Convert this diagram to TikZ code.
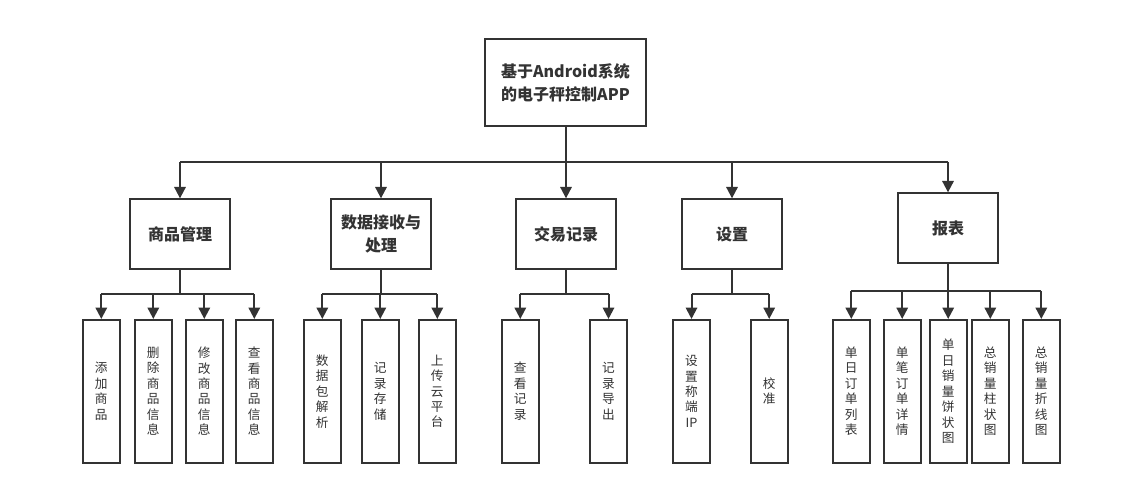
\documentclass[tikz,border=0pt]{standalone}
\usepackage{fontspec}
\newfontfamily\cjk{Noto Sans CJK SC}
\usetikzlibrary{arrows.meta}
\definecolor{linegray}{HTML}{333333}

\begin{document}
\begin{tikzpicture}[x=0.75pt,y=-0.75pt,>={Triangle[length=8.5pt,width=8.5pt]},
    link/.style={draw=linegray,line width=1.5pt},
    topbox/.style={draw=linegray,line width=1.5pt,fill=white,minimum width=121pt,minimum height=65pt,align=center,
        font=\cjk\bfseries\fontsize{12}{17}\selectfont,text=linegray},
    groupbox/.style={draw=linegray,line width=1.5pt,fill=white,minimum width=75pt,minimum height=52pt,align=center,
        font=\cjk\bfseries\fontsize{12}{17}\selectfont,text=linegray},
    leafbox/.style={draw=linegray,line width=1.5pt,fill=white,minimum width=28pt,minimum height=107pt,align=center,inner sep=0pt,
        font=\cjk\fontsize{9.5}{11.6}\selectfont,text=linegray}]
    \useasboundingbox (0,0) rectangle (1123,491);

    % top
    \node[topbox] (app) at (565.5,82.5) {基于Android系统\\的电子秤控制APP};

    % groups
    \node[groupbox] (goods) at (180,234) {商品管理};
    \node[groupbox] (data) at (381,234) {数据接收与\\处理};
    \node[groupbox] (trade) at (566,234) {交易记录};
    \node[groupbox] (setting) at (732,234) {设置};
    \node[groupbox] (report) at (948,228) {报表};

    \coordinate (bus) at (565.5,162.5);
    \draw[link] (app.south) -- (app |- bus);
    \draw[link] (goods |- bus) -- (report |- bus);
    \draw[link,->] (goods |- bus) -- (goods.north);
    \draw[link,->] (data |- bus) -- (data.north);
    \draw[link,->] (trade |- bus) -- (trade.north);
    \draw[link,->] (setting |- bus) -- (setting.north);
    \draw[link,->] (report |- bus) -- (report.north);

    % leaves
    \node[leafbox] (add) at (101.3,391.3) {添\\加\\商\\品};
    \node[leafbox] (del) at (153.3,391.3) {删\\除\\商\\品\\信\\息};
    \node[leafbox] (edit) at (204.3,391.3) {修\\改\\商\\品\\信\\息};
    \node[leafbox] (view) at (254.3,391.3) {查\\看\\商\\品\\信\\息};

    \node[leafbox] (parse) at (322.3,391.3) {数\\据\\包\\解\\析};
    \node[leafbox] (store) at (380.3,391.3) {记\\录\\存\\储};
    \node[leafbox] (upload) at (437.3,391.3) {上\\传\\云\\平\\台};

    \node[leafbox] (look) at (520.3,391.3) {查\\看\\记\\录};
    \node[leafbox] (export) at (608.5,391.3) {记\\录\\导\\出};

    \node[leafbox] (ip) at (691.5,391.3) {设\\置\\称\\端\\IP};
    \node[leafbox] (calib) at (769.2,391.3) {校\\准};

    \node[leafbox] (daylist) at (851.3,391.3) {单\\日\\订\\单\\列\\表};
    \node[leafbox] (order) at (902.2,391.3) {单\\笔\\订\\单\\详\\情};
    \node[leafbox] (pie) at (948.2,391.3) {单\\日\\销\\量\\饼\\状\\图};
    \node[leafbox] (bar) at (990.3,391.3) {总\\销\\量\\柱\\状\\图};
    \node[leafbox] (line) at (1041.3,391.3) {总\\销\\量\\折\\线\\图};

    % goods
    \coordinate (gbus) at (180,294);
    \draw[link] (goods.south) -- (gbus);
    \draw[link] (add |- gbus) -- (view |- gbus);
    \draw[link,->] (add |- gbus) -- (add.north);
    \draw[link,->] (del |- gbus) -- (del.north);
    \draw[link,->] (edit |- gbus) -- (edit.north);
    \draw[link,->] (view |- gbus) -- (view.north);

    % data
    \coordinate (dbus) at (381,294);
    \draw[link] (data.south) -- (dbus);
    \draw[link] (parse |- dbus) -- (upload |- dbus);
    \draw[link,->] (parse |- dbus) -- (parse.north);
    \draw[link,->] (store |- dbus) -- (store.north);
    \draw[link,->] (upload |- dbus) -- (upload.north);

    % trade
    \coordinate (tbus) at (566,294);
    \draw[link] (trade.south) -- (tbus);
    \draw[link] (look |- tbus) -- (export |- tbus);
    \draw[link,->] (look |- tbus) -- (look.north);
    \draw[link,->] (export |- tbus) -- (export.north);

    % setting
    \coordinate (sbus) at (732,294);
    \draw[link] (setting.south) -- (sbus);
    \draw[link] (ip |- sbus) -- (calib |- sbus);
    \draw[link,->] (ip |- sbus) -- (ip.north);
    \draw[link,->] (calib |- sbus) -- (calib.north);

    % report
    \coordinate (rbus) at (948,291);
    \draw[link] (report.south) -- (rbus);
    \draw[link] (daylist |- rbus) -- (line |- rbus);
    \draw[link,->] (daylist |- rbus) -- (daylist.north);
    \draw[link,->] (order |- rbus) -- (order.north);
    \draw[link,->] (pie |- rbus) -- (pie.north);
    \draw[link,->] (bar |- rbus) -- (bar.north);
    \draw[link,->] (line |- rbus) -- (line.north);
\end{tikzpicture}
\end{document}
